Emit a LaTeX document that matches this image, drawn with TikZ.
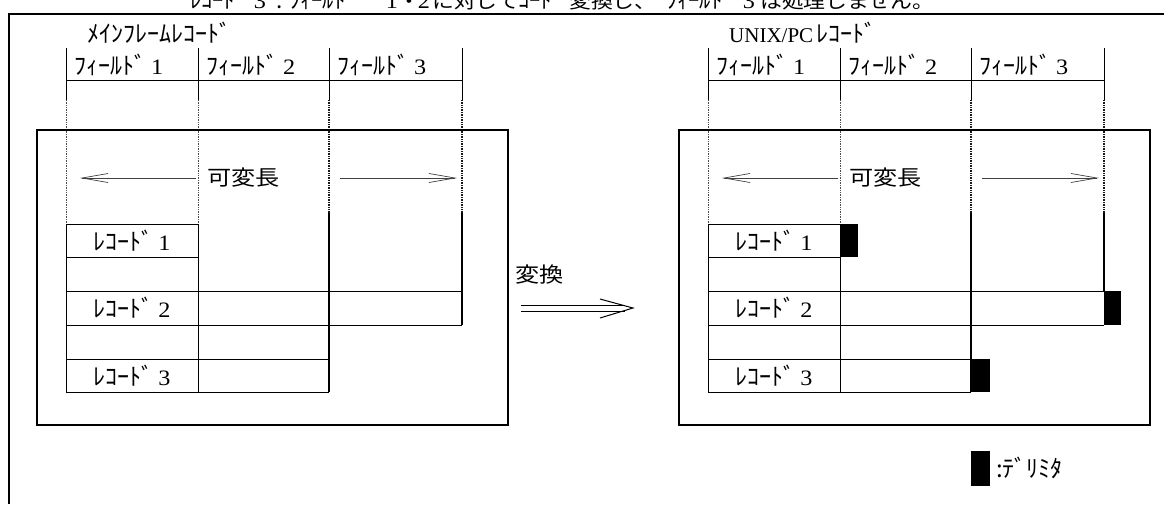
\documentclass[tikz,border=0pt]{standalone}
\usepackage{fontspec}
\setmainfont{Liberation Serif}
\newfontfamily\jp[FakeStretch=1.15]{Noto Sans CJK JP}
\newfontfamily\kanaface{Noto Sans CJK JP}
\newfontfamily\dg[FakeStretch=1.1]{Liberation Serif}
\usetikzlibrary{arrows.meta}
\newcommand\kn[1]{{\fontsize{24}{28}\selectfont\kanaface #1}}
\newcommand\capkn[1]{{\fontsize{22.5}{26}\selectfont\kanaface #1}}
\newcommand\dig[1]{{\fontsize{22}{26}\selectfont\dg #1}}
\newcommand\kfld[1]{\kn{ﾌｨｰﾙﾄﾞ}\hspace{5pt}\dig{#1}}
\newcommand\krec[1]{\kn{ﾚｺｰﾄﾞ}\hspace{5pt}\dig{#1}}
\tikzset{
  txt/.style={inner sep=0pt, font=\fontsize{21}{25}\selectfont},
  captxt/.style={inner sep=0pt, anchor=base west, font=\fontsize{19}{23}\selectfont},
  capdig/.style={inner sep=0pt, anchor=base, font=\fontsize{22}{25}\selectfont\dg},
  thin line/.style={line width=1pt},
  frame line/.style={line width=1.4pt},
  light dots/.style={line width=0.9pt, black!70, dash pattern=on 1pt off 0.7pt},
  dark dots/.style={line width=1.4pt, black!90, dash pattern=on 1pt off 0.7pt},
  thick col/.style={line width=1.5pt},
  varrow/.style={line width=0.7pt, black!75, -{Straight Barb[length=26pt,width=9pt]}},
  delim/.style={fill=black},
}
% #1 prefix, #2 title, #3 x-offset
\newcommand\drawside[3]{%
  \begin{scope}[xshift=#3pt]
    \node[txt, anchor=west] (#1title) at (87,33) {#2};
    \node[txt, anchor=west] (#1f1) at (74,65) {\kfld{1}};
    \node[txt, anchor=west] (#1f2) at (206,65) {\kfld{2}};
    \node[txt, anchor=west] (#1f3) at (337,65) {\kfld{3}};
    % header
    \foreach \x in {66,198,329,462}{\draw[thin line] (\x,48) -- (\x,100);}
    \draw[thin line] (66,80) -- (462,80);
    % dotted continuation
    \draw[light dots] (66,100) -- (66,224);
    \draw[light dots] (198,100) -- (198,224);
    \draw[dark dots] (329,100) -- (329,213);
    \draw[dark dots] (462,100) -- (462,213);
    % inner box
    \draw[frame line] (37,130) rectangle (508,425);
    % variable length
    \node[txt, anchor=west] (#1var) at (207,178) {\jp 可変長};
    \draw[varrow] (196,178) -- (80,178);
    \draw[varrow] (340,178) -- (457,178);
    % records
    \draw[thin line] (66,224) -- (66,392);
    \draw[thin line] (198,224) -- (198,392);
    \draw[thick col] (329,213) -- (329,392);
    \draw[thin line] (66,224) -- (198,224);
    \draw[thin line] (66,257) -- (198,257);
    \draw[thin line] (66,291) -- (462,291);
    \draw[thin line] (66,325) -- (462,325);
    \draw[thin line] (66,359) -- (329,359);
    \draw[thin line] (66,392) -- (329,392);
    \node[txt] (#1r1) at (132,240.5) {\krec{1}};
    \node[txt] (#1r2) at (132,308) {\krec{2}};
    \node[txt] (#1r3) at (132,375.5) {\krec{3}};
  \end{scope}
}
\begin{document}
\begin{tikzpicture}[x=1pt,y=-1pt]
\useasboundingbox (0,0) rectangle (1164,504);
% outer frame
\draw[frame line] (9,504) -- (9,14) -- (1164,14);
% caption (its upper half lies above the page, as in the reference)
\node[captxt] (cap1) at (190,8) {\capkn{ﾚｺｰﾄﾞ}};
\node[capdig] (cap2) at (260,8) {3};
\node[captxt] (cap3) at (276,8) {\capkn{:}};
\node[captxt] (cap4) at (289,8) {\capkn{ﾌｨｰﾙﾄﾞ}};
\node[capdig] (cap5) at (392,8) {1};
\node[captxt] (cap6) at (398,8) {\jp ・};
\node[capdig] (cap7) at (424,8) {2};
\node[captxt] (cap8) at (432,8) {\jp に対して};
\node[captxt] (cap9) at (518,8) {\capkn{ｺｰﾄﾞ}};
\node[captxt] (cap10) at (569,8) {\jp 変換し、};
\node[captxt] (cap11) at (666,8) {\capkn{ﾌｨｰﾙﾄﾞ}};
\node[capdig] (cap12) at (749,8) {3};
\node[captxt] (cap13) at (760,8) {\jp は処理しません。};
% left side
\drawside{L}{\kn{ﾒｲﾝﾌﾚｰﾑﾚｺｰﾄﾞ}}{0}
\draw[thick col] (462,213) -- (462,325);
% right side
\drawside{R}{{\fontsize{21}{25}\selectfont UNIX/PC}\hspace{3pt}\kn{ﾚｺｰﾄﾞ}}{642}
\draw[thick col] (1104,213) -- (1104,291);
\fill[delim] (840,224) rectangle (858,257);
\fill[delim] (1104,291) rectangle (1121,325);
\fill[delim] (971,359) rectangle (990,392);
% conversion arrow
\node[txt, anchor=west] (conv) at (515,275) {\jp 変換};
\coordinate (a1) at (521,308);
\coordinate (a2) at (633,308);
\draw[thin line] ([yshift=-3pt]a1) -- ([xshift=-8pt,yshift=-3pt]a2);
\draw[thin line] ([yshift=3pt]a1) -- ([xshift=-8pt,yshift=3pt]a2);
\draw[thin line] (600,299) -- (a2) -- (600,318);
% legend
\fill[delim] (971,451) rectangle (990,486);
\node[txt, anchor=west] (legend) at (996,468) {\kn{:ﾃﾞﾘﾐﾀ}};
\end{tikzpicture}
\end{document}
